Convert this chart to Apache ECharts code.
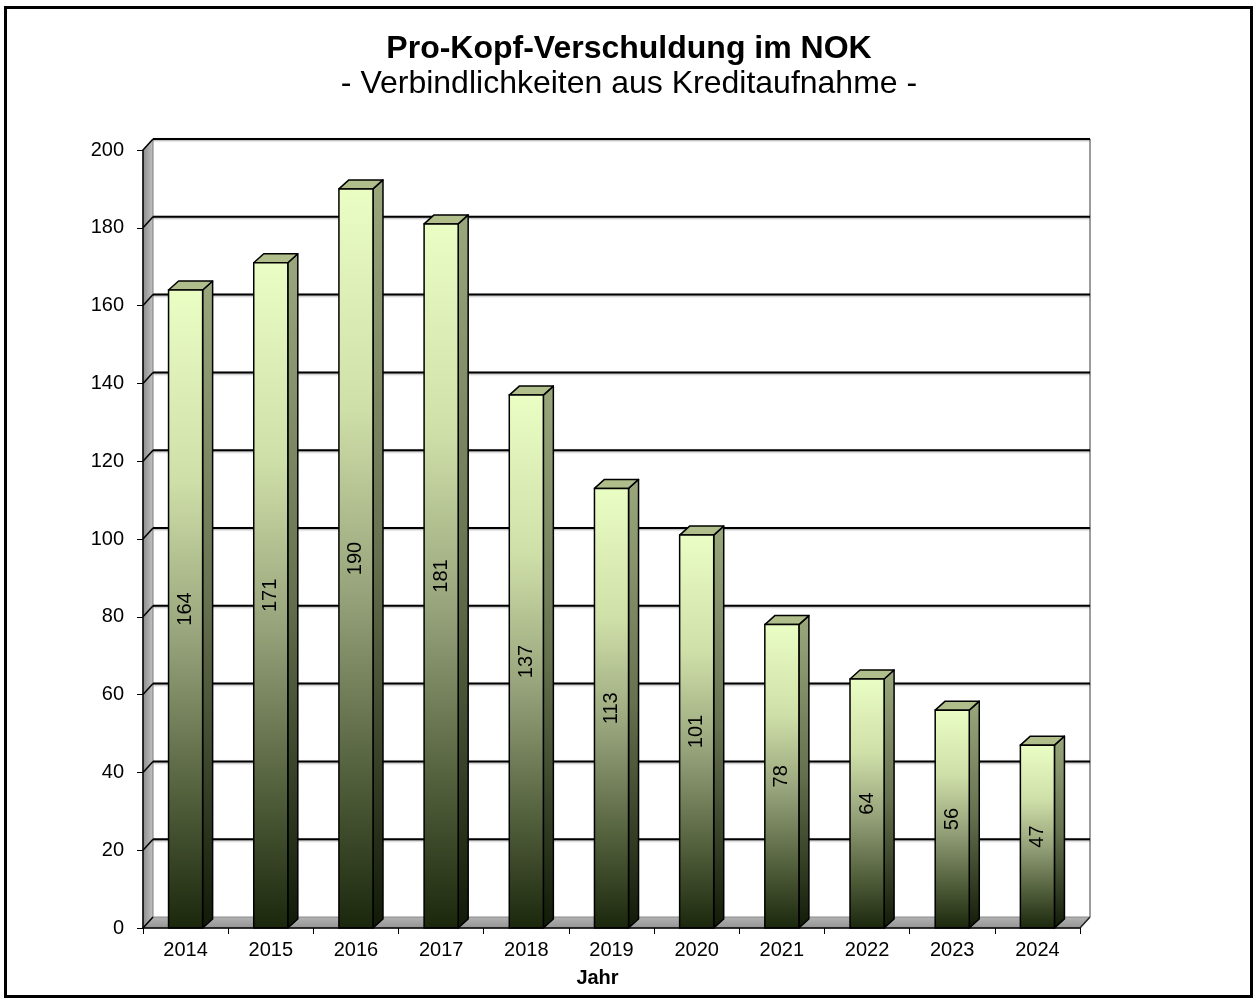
<!DOCTYPE html>
<html>
<head>
<meta charset="utf-8">
<script src="https://cdn.jsdelivr.net/npm/echarts@6/dist/echarts.min.js"></script>
<style>
html,body{margin:0;padding:0;background:#fff;}
#chart{width:1255px;height:999px;}
</style>
</head>
<body>
<div id="chart"></div>
<script>
// ---- data ----
const years = ['2014','2015','2016','2017','2018','2019','2020','2021','2022','2023','2024'];
const debtPerCapita = [164, 171, 190, 181, 137, 113, 101, 78, 64, 56, 47];
const yTicks = [0, 20, 40, 60, 80, 100, 120, 140, 160, 180, 200];
const titleText = 'Pro-Kopf-Verschuldung im NOK';
const subtitleText = '- Verbindlichkeiten aus Kreditaufnahme -';
const xAxisName = 'Jahr';

// ---- style ----
const FONT = "'Liberation Sans', Arial, sans-serif";
const WALL_DX = 10, WALL_DY = -11;
const BAR_DX = 10, BAR_DY = -9;

const chart = echarts.init(document.getElementById('chart'), null, {renderer: 'canvas'});

function wallsRender(params, api) {
  const cs = params.coordSys;
  const L = cs.x, T = cs.y, R = cs.x + cs.width, B = cs.y + cs.height;
  return {
    type: 'group',
    children: [
      { // left side wall
        type: 'polygon',
        shape: {points: [[L, T], [L + WALL_DX, T + WALL_DY], [L + WALL_DX, B + WALL_DY], [L, B]]},
        style: {
          fill: new echarts.graphic.LinearGradient(0, 0, 1, 0, [
            {offset: 0, color: '#8a8a8a'}, {offset: 1, color: '#c4c4c4'}
          ]),
          stroke: '#7a7a7a', lineWidth: 1
        }
      },
      { // floor
        type: 'polygon',
        shape: {points: [[L, B], [L + WALL_DX, B + WALL_DY], [R + WALL_DX, B + WALL_DY], [R, B]]},
        style: {
          fill: new echarts.graphic.LinearGradient(0, 0, 0, 1, [
            {offset: 0, color: '#b4b4b4'}, {offset: 1, color: '#939393'}
          ]),
          stroke: '#8a8a8a', lineWidth: 1
        }
      },
      { // right edge of back wall
        type: 'line',
        shape: {x1: R + WALL_DX, y1: T + WALL_DY, x2: R + WALL_DX, y2: B + WALL_DY},
        style: {stroke: '#9c9c9c', lineWidth: 2}
      },
      { // floor right edge
        type: 'line',
        shape: {x1: R, y1: B, x2: R + WALL_DX, y2: B + WALL_DY},
        style: {stroke: '#222', lineWidth: 1.5}
      }
    ]
  };
}

function gridRender(params, api) {
  const cs = params.coordSys;
  const v = api.value(1);
  const y = api.coord([0, v])[1];
  const L = cs.x, R = cs.x + cs.width;
  const children = [
    {type: 'line', shape: {x1: L, y1: y, x2: L + WALL_DX, y2: y + WALL_DY},
     style: {stroke: '#000', lineWidth: 1.5}}
  ];
  if (v !== 0) {
    children.push({type: 'line', shape: {x1: L + WALL_DX, y1: y + WALL_DY, x2: R + WALL_DX, y2: y + WALL_DY},
      style: {stroke: '#000', lineWidth: 2, shadowColor: 'rgba(0,0,0,0.35)', shadowBlur: 2, shadowOffsetY: 1}});
  }
  return {type: 'group', children: children};
}

function barRender(params, api) {
  const idx = api.value(0);
  const v = api.value(1);
  const top = api.coord([idx, v]);
  const base = api.coord([idx, 0]);
  const bw = api.size([1, 0])[0] * 0.4;
  const x0 = top[0] - bw / 2, x1 = top[0] + bw / 2;
  const yt = top[1], yb = base[1];
  return {
    type: 'group',
    children: [
      { // side face
        type: 'polygon',
        shape: {points: [[x1, yt], [x1 + BAR_DX, yt + BAR_DY], [x1 + BAR_DX, yb + BAR_DY], [x1, yb]]},
        style: {
          fill: new echarts.graphic.LinearGradient(0, 0, 0, 1, [
            {offset: 0, color: '#9ba87d'}, {offset: 0.5, color: '#66714f'}, {offset: 1, color: '#111a07'}
          ]),
          stroke: '#000', lineWidth: 1.5, lineJoin: 'round'
        }
      },
      { // top face
        type: 'polygon',
        shape: {points: [[x0, yt], [x0 + BAR_DX, yt + BAR_DY], [x1 + BAR_DX, yt + BAR_DY], [x1, yt]]},
        style: {fill: '#afbe8b', stroke: '#000', lineWidth: 1.5, lineJoin: 'round'}
      },
      { // front face
        type: 'rect',
        shape: {x: x0, y: yt, width: bw, height: yb - yt},
        style: {
          fill: new echarts.graphic.LinearGradient(0, 0, 0, 1, [
            {offset: 0, color: '#eafec4'},
            {offset: 0.3, color: '#cfdfa8'},
            {offset: 0.55, color: '#96a27a'},
            {offset: 0.78, color: '#56633f'},
            {offset: 1, color: '#1b270c'}
          ]),
          stroke: '#000', lineWidth: 1.5
        }
      },
      { // value label
        type: 'text',
        x: top[0], y: (yt + yb) / 2,
        rotation: Math.PI / 2,
        style: {
          text: String(v), fill: '#000', font: '20px ' + FONT,
          align: 'center', verticalAlign: 'middle'
        }
      }
    ]
  };
}

const option = {
  animation: false,
  backgroundColor: '#fff',
  title: [
    {text: titleText, left: 629, top: 33, textAlign: 'center', padding: 0,
     textStyle: {fontFamily: FONT, fontSize: 32, fontWeight: 'bold', color: '#000', lineHeight: 32}},
    {text: subtitleText, left: 629, top: 68, textAlign: 'center', padding: 0,
     textStyle: {fontFamily: FONT, fontSize: 32, fontWeight: 'normal', color: '#000', lineHeight: 32}}
  ],
  grid: {left: 143, top: 150, right: 175, bottom: 71, containLabel: false},
  xAxis: {
    type: 'category',
    data: years,
    boundaryGap: true,
    z: 5,
    axisLine: {show: true, lineStyle: {color: '#000', width: 1.5}},
    axisTick: {show: true, length: 6, interval: 0, lineStyle: {color: '#000'}},
    axisLabel: {color: '#000', fontFamily: FONT, fontSize: 20, margin: 12, interval: 0},
    splitLine: {show: false},
    name: xAxisName,
    nameLocation: 'middle',
    nameGap: 40,
    nameTextStyle: {color: '#000', fontFamily: FONT, fontSize: 20, fontWeight: 'bold', padding: [0, 28, 0, 0]}
  },
  yAxis: {
    type: 'value',
    min: yTicks[0],
    max: yTicks[yTicks.length - 1],
    interval: yTicks[1] - yTicks[0],
    z: 5,
    axisLine: {show: true, lineStyle: {color: '#000', width: 1.5}},
    axisTick: {show: true, length: 6, lineStyle: {color: '#000'}},
    axisLabel: {color: '#000', fontFamily: FONT, fontSize: 20, margin: 19},
    splitLine: {show: false}
  },
  graphic: [
    {type: 'rect', shape: {x: 5.5, y: 7.5, width: 1246, height: 989},
     style: {fill: 'none', stroke: '#000', lineWidth: 3}, z: 100, silent: true}
  ],
  series: [
    {type: 'custom', name: 'walls', renderItem: wallsRender, data: [[0, 0]], z: 1, silent: true},
    {type: 'custom', name: 'grid', renderItem: gridRender, data: yTicks.map(v => [0, v]), z: 2, silent: true},
    {type: 'custom', name: 'Pro-Kopf-Verschuldung', renderItem: barRender,
     data: debtPerCapita.map((v, i) => [i, v]), z: 3,
     encode: {x: 0, y: 1}}
  ]
};
chart.setOption(option);
</script>
</body>
</html>
